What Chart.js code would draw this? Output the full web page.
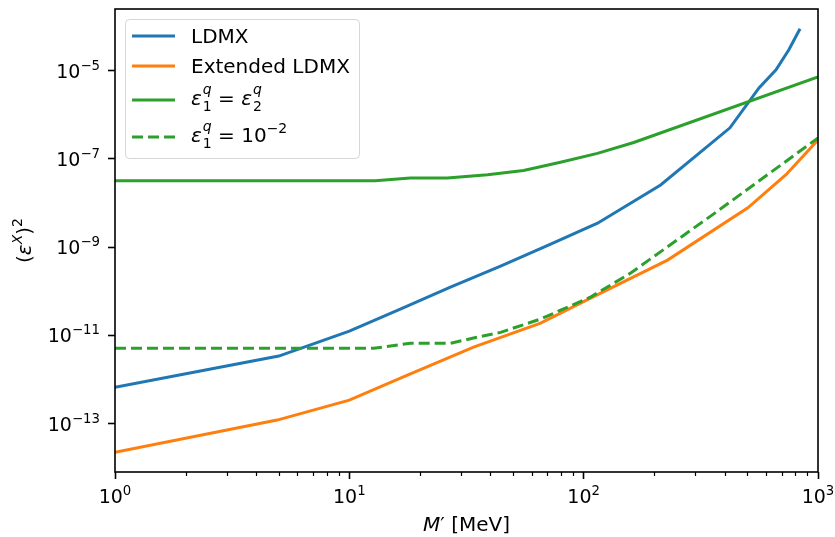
<!DOCTYPE html>
<html lang="en">
<head>
    <meta charset="UTF-8">
    <title>LDMX reach</title>
    <script src="https://cdn.jsdelivr.net/npm/chart.js"></script>
    <style>
        body { margin: 0; background: #fff; }
    </style>
</head>
<body>
    <canvas id="chart_div" width="835" height="537"></canvas>
    <script>
        // values (M' in MeV, (eps^X)^2)
        var ldmxMass = [1, 5, 10, 16.5, 27, 44.2, 72.3, 114.6, 213, 421, 560, 662, 751, 838];
        var ldmxEps  = [6.7e-13, 3.4e-12, 1.25e-11, 3.95e-11, 1.24e-10, 3.73e-10, 1.18e-9, 3.5e-9, 2.57e-8, 5.1e-7, 4.1e-6, 1.05e-5, 3.0e-5, 9.0e-5];

        var extMass = [1, 4.92, 10, 17.7, 33.9, 65.5, 107, 228, 502, 730, 1000];
        var extEps  = [2.24e-14, 1.2e-13, 3.4e-13, 1.26e-12, 5.4e-12, 1.9e-11, 7.0e-11, 5.1e-10, 7.8e-9, 4.4e-8, 2.7e-7];

        var equalMass = [1, 12.9, 18.2, 26.2, 38.9, 55.4, 79.6, 114.5, 163.6, 1000];
        var equalEps  = [3.2e-8, 3.2e-8, 3.7e-8, 3.7e-8, 4.4e-8, 5.5e-8, 8.4e-8, 1.34e-7, 2.37e-7, 7.3e-6];

        var fixedMass = [1, 12.7, 18.2, 27, 33.9, 44.2, 65.5, 107, 158.8, 359, 1000];
        var fixedEps  = [5.1e-12, 5.1e-12, 6.6e-12, 6.6e-12, 8.7e-12, 1.17e-11, 2.35e-11, 7.4e-11, 2.6e-10, 5.7e-9, 3.0e-7];

        var xTicks = [1, 10, 100, 1000];
        var yTicks = [1e-13, 1e-11, 1e-9, 1e-7, 1e-5];

        var BLUE = '#1f77b4', ORANGE = '#ff7f0e', GREEN = '#2ca02c';
        var FONT = "'DejaVu Sans'";

        function pts(xs, ys) {
            var out = [];
            for (var i = 0; i < xs.length; i++) out.push({x: xs[i], y: ys[i]});
            return out;
        }

        // "10" with a raised exponent, like matplotlib's log labels
        function powParts(v) {
            var e = Math.round(Math.log10(v));
            var s = e < 0 ? '−' + (-e) : String(e);
            return [{t: '10', sz: 19}, {t: s, sz: 13.3, dy: -8}];
        }

        // draws a row of text pieces: {t, it, sz, dy} or {sup, sub, sz}
        function mathWidth(ctx, parts) {
            var w = 0;
            parts.forEach(function(p) {
                if (p.sup !== undefined) {
                    ctx.font = 'italic ' + p.sz + 'px ' + FONT;
                    var a = ctx.measureText(p.sup).width;
                    ctx.font = p.sz + 'px ' + FONT;
                    var b = ctx.measureText(p.sub).width;
                    w += Math.max(a, b) + 1;
                } else {
                    ctx.font = (p.it ? 'italic ' : '') + p.sz + 'px ' + FONT;
                    w += ctx.measureText(p.t).width;
                }
            });
            return w;
        }
        function drawMath(ctx, parts, x, y) {
            var cx = x;
            parts.forEach(function(p) {
                if (p.sup !== undefined) {
                    ctx.font = 'italic ' + p.sz + 'px ' + FONT;
                    var a = ctx.measureText(p.sup).width;
                    ctx.fillText(p.sup, cx + 1, y - 11);
                    ctx.font = p.sz + 'px ' + FONT;
                    var b = ctx.measureText(p.sub).width;
                    ctx.fillText(p.sub, cx + 1, y + 6);
                    cx += Math.max(a, b) + 1;
                } else {
                    ctx.font = (p.it ? 'italic ' : '') + p.sz + 'px ' + FONT;
                    ctx.fillText(p.t, cx, y + (p.dy || 0));
                    cx += ctx.measureText(p.t).width;
                }
            });
        }

        var decor = {
            id: 'decor',
            afterDraw: function(chart) {
                var ctx = chart.ctx, a = chart.chartArea;
                var xs = chart.scales.x, ys = chart.scales.y;
                ctx.save();
                ctx.fillStyle = '#000';
                ctx.strokeStyle = '#000';
                ctx.textAlign = 'left';
                ctx.textBaseline = 'alphabetic';

                // minor ticks on x
                ctx.lineWidth = 1.2;
                for (var d = 0; d < 3; d++) {
                    for (var k = 2; k < 10; k++) {
                        var px = Math.round(xs.getPixelForValue(k * Math.pow(10, d))) + 0.5;
                        ctx.beginPath();
                        ctx.moveTo(px, a.bottom);
                        ctx.lineTo(px, a.bottom + 4);
                        ctx.stroke();
                    }
                }

                // tick labels
                var w;
                xTicks.forEach(function(v) {
                    var p = powParts(v);
                    w = mathWidth(ctx, p);
                    drawMath(ctx, p, xs.getPixelForValue(v) - w / 2, 503);
                });
                yTicks.forEach(function(v) {
                    var p = powParts(v);
                    w = mathWidth(ctx, p);
                    drawMath(ctx, p, 100 - w, ys.getPixelForValue(v) + 7);
                });

                // frame
                ctx.lineWidth = 1.6;
                ctx.strokeRect(a.left, a.top, a.right - a.left, a.bottom - a.top);

                // x title
                var xt = [{t: 'M', it: true, sz: 20}, {t: '′ [MeV]', sz: 20}];
                w = mathWidth(ctx, xt);
                drawMath(ctx, xt, (a.left + a.right) / 2 - w / 2, 531);

                // y title (rotated)
                var yt = [{t: '(', sz: 20}, {t: 'ε', it: true, sz: 20}, {t: 'X', it: true, sz: 14, dy: -9},
                          {t: ')', sz: 20}, {t: '2', sz: 14, dy: -9}];
                ctx.save();
                ctx.translate(31, (a.top + a.bottom) / 2);
                ctx.rotate(-Math.PI / 2);
                w = mathWidth(ctx, yt);
                drawMath(ctx, yt, -w / 2, 0);
                ctx.restore();

                // legend
                var lx = 125, ly = 19, lw = 234, lh = 139;
                ctx.beginPath();
                ctx.roundRect(lx + 0.5, ly + 0.5, lw, lh, 4);
                ctx.fillStyle = 'rgba(255,255,255,0.8)';
                ctx.fill();
                ctx.strokeStyle = 'rgba(204,204,204,0.8)';
                ctx.lineWidth = 1;
                ctx.stroke();

                var rows = [
                    {c: BLUE, dash: [], y: 36, base: 43, parts: [{t: 'LDMX', sz: 20}]},
                    {c: ORANGE, dash: [], y: 66, base: 73, parts: [{t: 'Extended LDMX', sz: 20}]},
                    {c: GREEN, dash: [], y: 100, base: 105, parts: [
                        {t: 'ε', it: true, sz: 20}, {sup: 'q', sub: '1', sz: 14}, {t: ' = ', sz: 20},
                        {t: 'ε', it: true, sz: 20}, {sup: 'q', sub: '2', sz: 14}]},
                    {c: GREEN, dash: [11, 5], y: 137, base: 142, parts: [
                        {t: 'ε', it: true, sz: 20}, {sup: 'q', sub: '1', sz: 14}, {t: ' = 10', sz: 20},
                        {t: '−2', sz: 14, dy: -9}]}
                ];
                rows.forEach(function(r) {
                    ctx.strokeStyle = r.c;
                    ctx.lineWidth = 3;
                    ctx.setLineDash(r.dash);
                    ctx.beginPath();
                    ctx.moveTo(132, r.y);
                    ctx.lineTo(175, r.y);
                    ctx.stroke();
                    ctx.setLineDash([]);
                    ctx.fillStyle = '#000';
                    drawMath(ctx, r.parts, 191, r.base);
                });
                ctx.restore();
            }
        };

        var config = {
            type: 'line',
            data: {
                datasets: [
                    {label: 'LDMX', data: pts(ldmxMass, ldmxEps), borderColor: BLUE, order: 4},
                    {label: 'Extended LDMX', data: pts(extMass, extEps), borderColor: ORANGE, order: 3},
                    {label: 'eps1 = eps2', data: pts(equalMass, equalEps), borderColor: GREEN, order: 2},
                    {label: 'eps1 = 1e-2', data: pts(fixedMass, fixedEps), borderColor: GREEN, borderDash: [11, 5], order: 1}
                ]
            },
            options: {
                responsive: false,
                animation: false,
                events: [],
                layout: { padding: { left: 0, right: 17, top: 9, bottom: 0 } },
                elements: {
                    line: { borderWidth: 3, tension: 0, fill: false, borderCapStyle: 'butt' },
                    point: { radius: 0 }
                },
                plugins: { legend: { display: false }, tooltip: { enabled: false } },
                scales: {
                    x: {
                        type: 'logarithmic',
                        min: 1,
                        max: 1000,
                        afterBuildTicks: function(s) { s.ticks = xTicks.map(function(v) { return {value: v, major: true}; }); },
                        afterFit: function(s) { s.height = 65; s.paddingLeft = 0; s.paddingRight = 0; },
                        ticks: { display: false, autoSkip: false },
                        grid: { drawOnChartArea: false, drawTicks: true, tickLength: 7, tickWidth: 1.6, tickColor: '#000' },
                        border: { display: false }
                    },
                    y: {
                        type: 'logarithmic',
                        min: 7.98e-15,
                        max: 2.52e-4,
                        afterBuildTicks: function(s) { s.ticks = yTicks.map(function(v) { return {value: v, major: true}; }); },
                        afterFit: function(s) { s.width = 115; s.paddingTop = 0; s.paddingBottom = 0; },
                        ticks: { display: false, autoSkip: false },
                        grid: { drawOnChartArea: false, drawTicks: true, tickLength: 7, tickWidth: 1.6, tickColor: '#000' },
                        border: { display: false }
                    }
                }
            },
            plugins: [decor]
        };

        var ctx = document.getElementById('chart_div');
        var myChart = new Chart(ctx, config);
    </script>
</body>
</html>
